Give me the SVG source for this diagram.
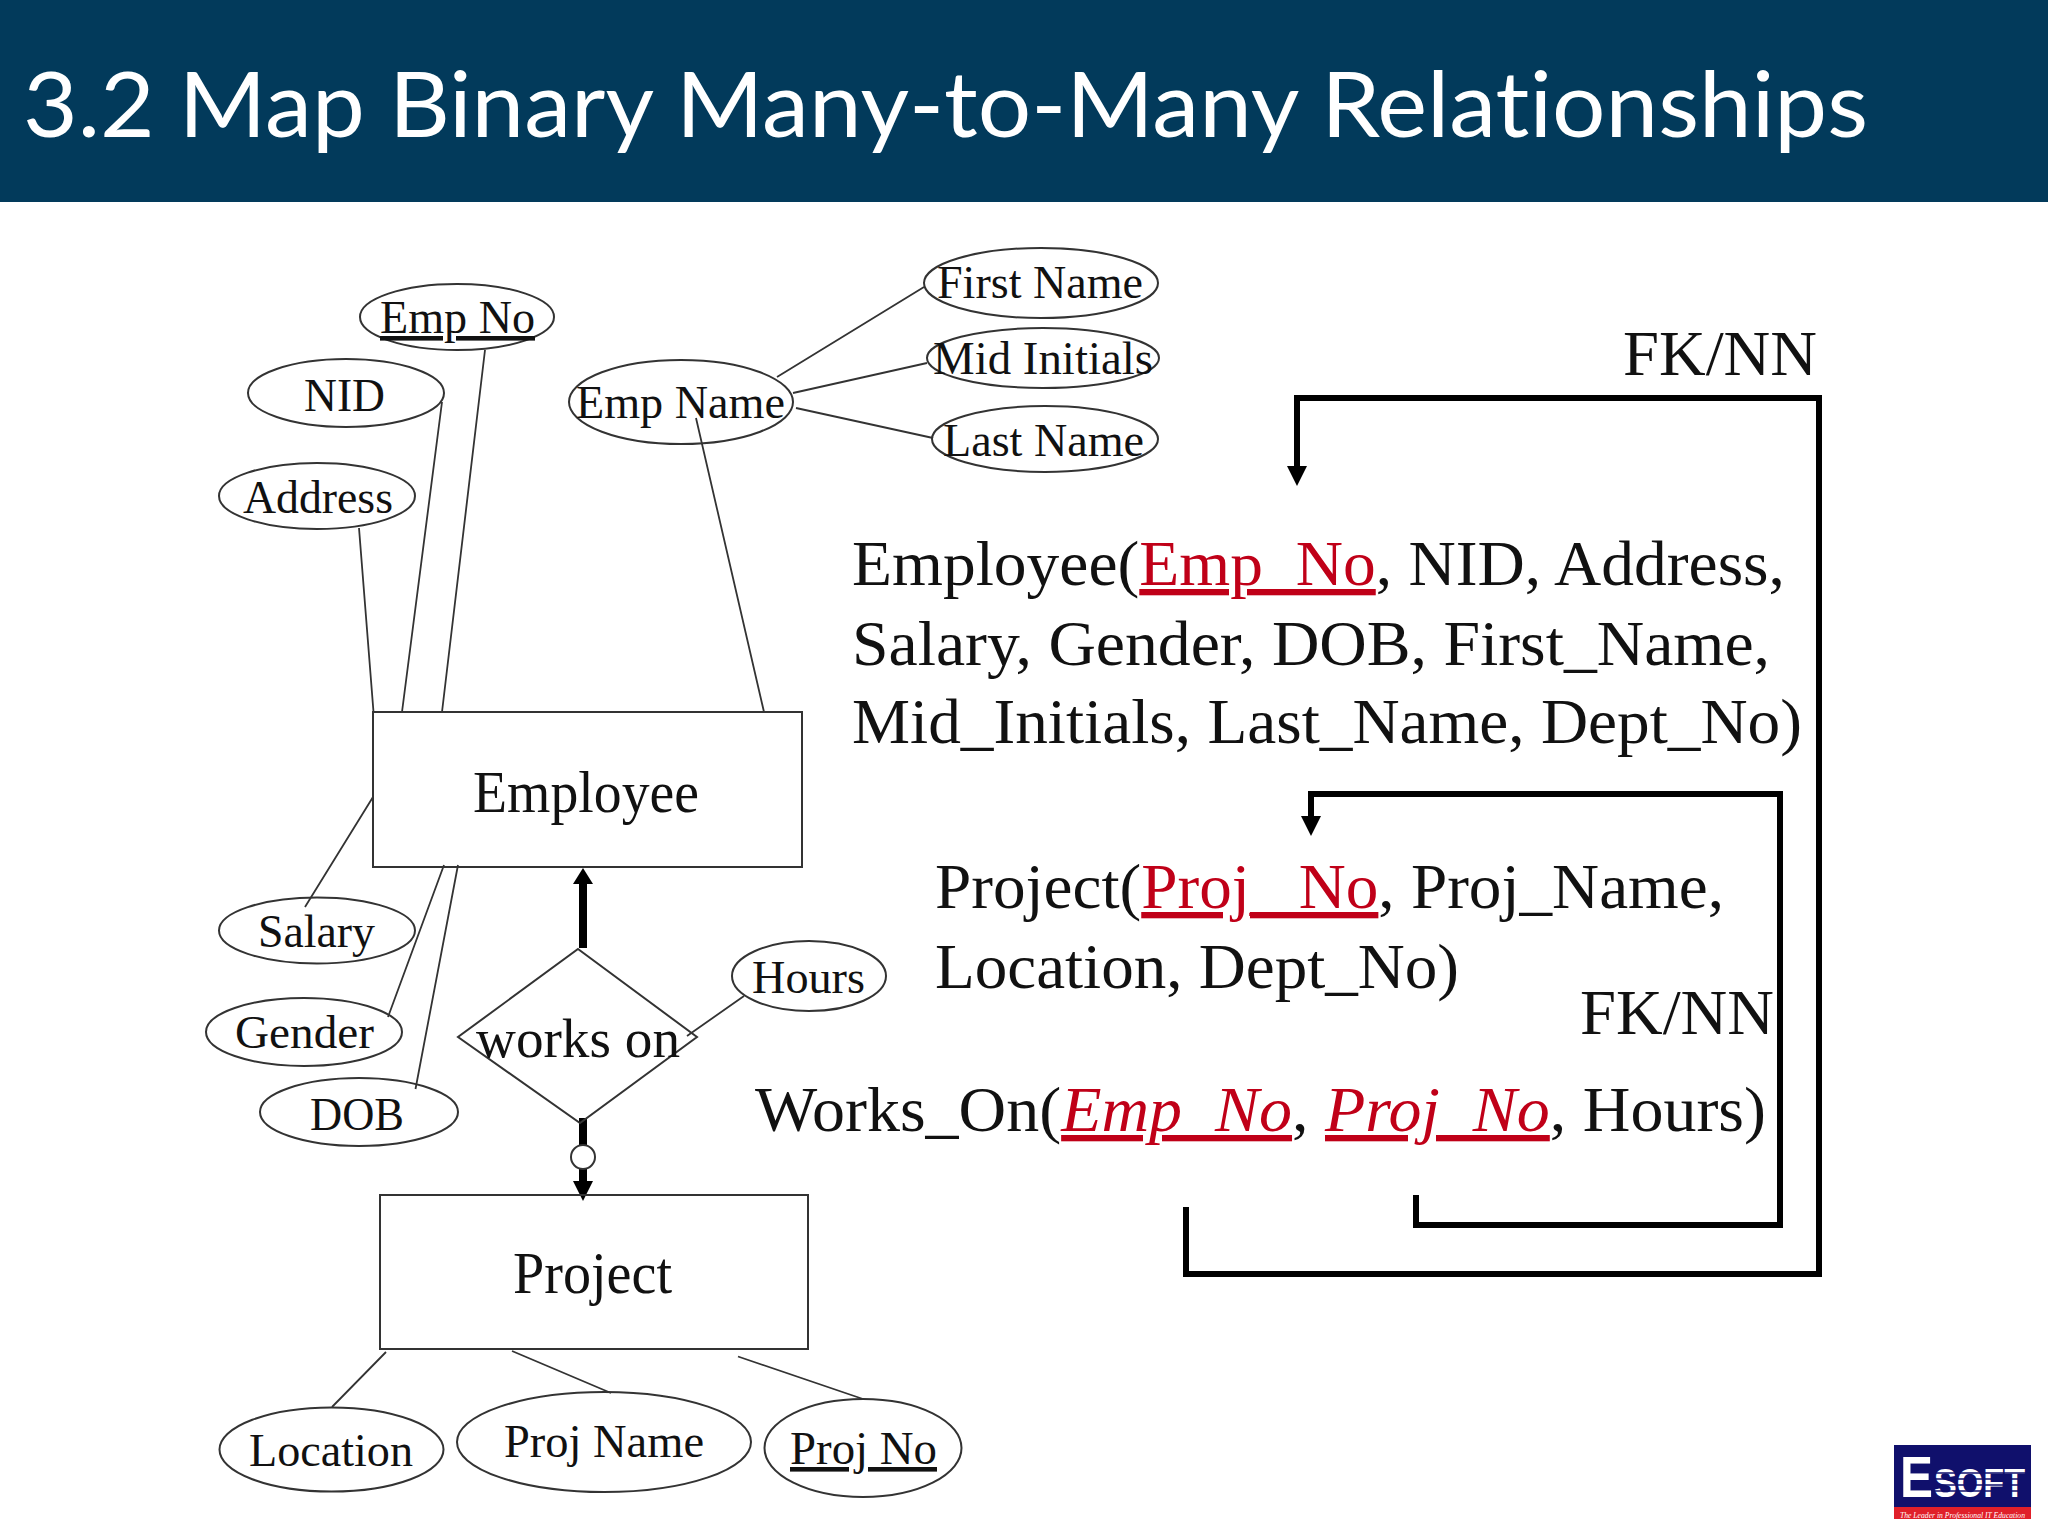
<svg xmlns="http://www.w3.org/2000/svg" width="2048" height="1536" viewBox="0 0 2048 1536">
<style>
text{font-family:"Liberation Serif","Times New Roman",serif;fill:#111}
.title{font-family:Lato,"Open Sans",sans-serif;font-size:92px;fill:#fff;font-variant-ligatures:none;font-feature-settings:"liga" 0,"dlig" 0}
.shape{fill:none;stroke:#333;stroke-width:2}
.filled{fill:#fff;stroke:#333;stroke-width:2}
.thin{stroke:#333;stroke-width:1.8;fill:none}
.lab{font-size:46px}
.ent{font-size:60px}
.rel{font-size:63px}
.fk{fill:none;stroke:#000;stroke-width:6}
.thick{stroke:#000;stroke-width:8;fill:none}
.k{fill:#c00018;text-decoration:underline;text-decoration-skip-ink:none}
.u{text-decoration:underline;text-decoration-skip-ink:none}
</style>
<rect width="2048" height="1536" fill="#fff"/>
<rect id="header" width="2048" height="202" fill="#023a5b"/>
<text class="title" x="23" y="137" textLength="1845" lengthAdjust="spacingAndGlyphs">3.2 Map Binary Many-to-Many Relationships</text>

<g id="connectors">
<path class="thin" d="M485 350L442 712M442 402L402 712M359 528L373.500 712M696 418L764 712M777 377L924 287M793 393L927 363M796 408L933 438M373 797L305 907M444 865L388 1017M458 865L415.500 1089M744 996L687 1036M386 1352L332 1407M512 1351L611 1393M738 1356.500L863 1399"/>
<path class="thick" d="M583 948V883"/>
<path d="M583 868L593 884H573z" fill="#000"/>
<path class="thick" d="M583 1118V1145M583 1169V1183"/>
<path d="M583 1201L593 1181H573z" fill="#000"/>
<circle cx="583" cy="1157" r="12" class="filled"/>
<path class="fk" d="M1186 1207V1274H1819V398H1297V470"/>
<path d="M1297 486L1287 466H1307z" fill="#000"/>
<path class="fk" d="M1416 1195V1225H1780V794H1311V820"/>
<path d="M1311 836L1301 816H1321z" fill="#000"/>
</g>

<g id="emp-no"><ellipse class="shape" cx="457" cy="317" rx="97" ry="33"/><text class="lab u" x="380" y="333" textLength="155" lengthAdjust="spacingAndGlyphs">Emp No</text></g>
<g id="nid"><ellipse class="shape" cx="346" cy="393" rx="98" ry="34"/><text class="lab" x="304" y="411" textLength="81" lengthAdjust="spacingAndGlyphs">NID</text></g>
<g id="address"><ellipse class="shape" cx="317" cy="496" rx="98" ry="33"/><text class="lab" x="243" y="513" textLength="150" lengthAdjust="spacingAndGlyphs">Address</text></g>
<g id="emp-name"><ellipse class="shape" cx="681" cy="402" rx="112" ry="42"/><text class="lab" x="576" y="418" textLength="209" lengthAdjust="spacingAndGlyphs">Emp Name</text></g>
<g id="first-name"><ellipse class="shape" cx="1041" cy="283" rx="117" ry="35"/><text class="lab" x="937" y="298" textLength="206" lengthAdjust="spacingAndGlyphs">First Name</text></g>
<g id="mid-initials"><ellipse class="shape" cx="1043" cy="358" rx="116" ry="30"/><text class="lab" x="933" y="374" textLength="220" lengthAdjust="spacingAndGlyphs">Mid Initials</text></g>
<g id="last-name"><ellipse class="shape" cx="1045" cy="439" rx="113" ry="33"/><text class="lab" x="943" y="456" textLength="201" lengthAdjust="spacingAndGlyphs">Last Name</text></g>
<g id="employee"><rect class="shape" x="373" y="712" width="429" height="155"/><text class="ent" x="473" y="812" textLength="226" lengthAdjust="spacingAndGlyphs">Employee</text></g>
<g id="salary"><ellipse class="shape" cx="317" cy="930.500" rx="98" ry="33"/><text class="lab" x="258" y="947" textLength="117" lengthAdjust="spacingAndGlyphs">Salary</text></g>
<g id="gender"><ellipse class="shape" cx="304" cy="1032" rx="98" ry="34"/><text class="lab" x="235" y="1048" textLength="139" lengthAdjust="spacingAndGlyphs">Gender</text></g>
<g id="dob"><ellipse class="shape" cx="359" cy="1112" rx="99" ry="34"/><text class="lab" x="310" y="1130" textLength="94" lengthAdjust="spacingAndGlyphs">DOB</text></g>
<g id="works-on"><path class="shape" d="M578 949L697 1037L580 1123L458 1037z"/><text class="ent" style="font-size:54px" x="476" y="1057" textLength="204" lengthAdjust="spacingAndGlyphs">works on</text></g>
<g id="hours"><ellipse class="shape" cx="809" cy="976" rx="77" ry="35"/><text class="lab" x="752" y="993" textLength="113" lengthAdjust="spacingAndGlyphs">Hours</text></g>
<g id="project"><rect class="shape" x="380" y="1195" width="428" height="154"/><text class="ent" x="513" y="1293" textLength="159" lengthAdjust="spacingAndGlyphs">Project</text></g>
<g id="location"><ellipse class="shape" cx="331.500" cy="1449.500" rx="112" ry="42"/><text class="lab" x="249" y="1466" textLength="164" lengthAdjust="spacingAndGlyphs">Location</text></g>
<g id="proj-name"><ellipse class="shape" cx="604" cy="1442" rx="147" ry="50"/><text class="lab" x="504" y="1457" textLength="200" lengthAdjust="spacingAndGlyphs">Proj Name</text></g>
<g id="proj-no"><ellipse class="shape" cx="863" cy="1448" rx="98.500" ry="49"/><text class="lab u" x="790" y="1464" textLength="147" lengthAdjust="spacingAndGlyphs">Proj No</text></g>

<g id="schema">
<text class="rel" x="852" y="585" textLength="933" lengthAdjust="spacingAndGlyphs">Employee(<tspan class="k">Emp_No</tspan>, NID, Address,</text>
<text class="rel" x="852" y="665" textLength="918" lengthAdjust="spacingAndGlyphs">Salary, Gender, DOB, First_Name,</text>
<text class="rel" x="852" y="743" textLength="950" lengthAdjust="spacingAndGlyphs">Mid_Initials, Last_Name, Dept_No)</text>
<text class="rel" x="935" y="908" textLength="789" lengthAdjust="spacingAndGlyphs">Project(<tspan class="k">Proj_ No</tspan>, Proj_Name,</text>
<text class="rel" x="935" y="988" textLength="524" lengthAdjust="spacingAndGlyphs">Location, Dept_No)</text>
<text class="rel" x="755" y="1131" textLength="1011" lengthAdjust="spacingAndGlyphs">Works_On(<tspan class="k" font-style="italic">Emp_No</tspan>, <tspan class="k" font-style="italic">Proj_No</tspan>, Hours)</text>
<text class="rel" x="1623" y="375" textLength="194" lengthAdjust="spacingAndGlyphs">FK/NN</text>
<text class="rel" x="1580" y="1034" textLength="194" lengthAdjust="spacingAndGlyphs">FK/NN</text>
</g>

<g id="logo">
<rect x="1894" y="1445" width="137" height="74" fill="#10106c"/>
<rect x="1894" y="1507" width="137" height="12" fill="#e0202a"/>
<text x="1900" y="1497" style="font-family:'Liberation Sans',sans-serif;font-weight:bold;font-size:58px;fill:#fff" textLength="33" lengthAdjust="spacingAndGlyphs">E</text>
<text x="1934" y="1497" style="font-family:'Liberation Sans',sans-serif;font-weight:bold;font-size:40px;fill:#fff" textLength="91" lengthAdjust="spacingAndGlyphs">SOFT</text>
<path d="M1934 1473H2026M1934 1479H2026M1934 1485H2026M1934 1491H2026" stroke="#10106c" stroke-width="1.500"/>
<text x="1900" y="1517.500" style="font-style:italic;font-size:8px;fill:#fff" textLength="125" lengthAdjust="spacingAndGlyphs">The Leader in Professional IT Education</text>
</g>
</svg>
